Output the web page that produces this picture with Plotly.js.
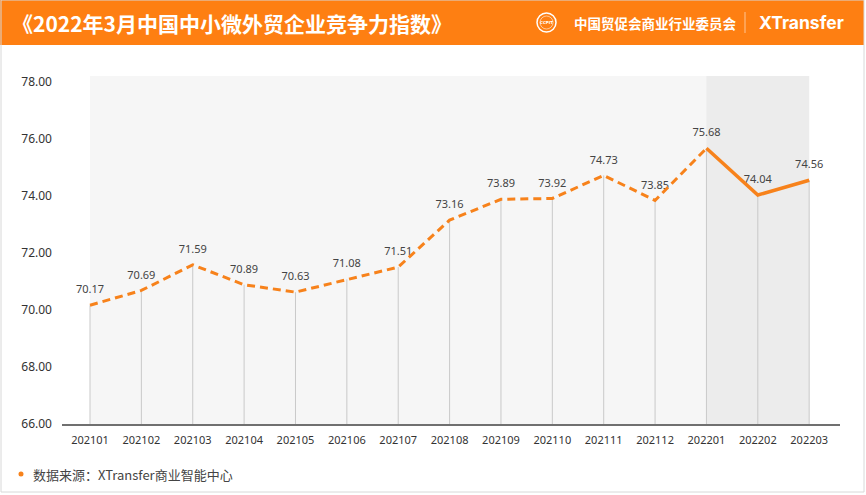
<!DOCTYPE html>
<html>
<head>
<meta charset="utf-8">
<script src="https://cdn.plot.ly/plotly-3.0.1.min.js"></script>
<style>
  html, body { margin: 0; padding: 0; background: #fff; }
  #chart { width: 866px; height: 495px; }
</style>
</head>
<body>
<div id="chart"></div>
<script>
// data
const months = ['202101','202102','202103','202104','202105','202106','202107','202108',
                '202109','202110','202111','202112','202201','202202','202203'];
const index_values = [70.17, 70.69, 71.59, 70.89, 70.63, 71.08, 71.51, 73.16,
                      73.89, 73.92, 74.73, 73.85, 75.68, 74.04, 74.56];
const solid_from = 12; // 2022 part is drawn solid
const y_ticks = [66, 68, 70, 72, 74, 76, 78];

const W = 866, H = 495;
const px = v => v / W;          // pixel -> paper x
const py = v => 1 - v / H;      // pixel -> paper y

const orange = '#F7821B';
const xs = months.map((m, i) => i);

// grey drop lines as one-sided error bars, labels sit above an invisible marker
const drops = {
  x: xs,
  y: index_values,
  mode: 'markers+text',
  marker: {size: 13, opacity: 0},
  text: index_values.map(v => v.toFixed(2)),
  textposition: 'top center',
  textfont: {family: 'Noto Sans, sans-serif', size: 11, color: '#444'},
  error_y: {
    type: 'data', symmetric: false,
    array: index_values.map(() => 0),
    arrayminus: index_values.map(v => v - y_ticks[0]),
    width: 0, thickness: 1, color: '#c9c9c9'
  },
  hoverinfo: 'skip'
};
const dashed = {
  x: xs.slice(0, solid_from + 1),
  y: index_values.slice(0, solid_from + 1),
  mode: 'lines',
  line: {color: orange, width: 3, dash: '8px,5px'},
  hoverinfo: 'skip'
};
const solid = {
  x: xs.slice(solid_from),
  y: index_values.slice(solid_from),
  mode: 'lines',
  line: {color: orange, width: 3.5},
  hoverinfo: 'skip'
};

const layout = {
  width: W, height: H,
  margin: {l: 0, r: 0, t: 0, b: 0},
  paper_bgcolor: '#fff',
  plot_bgcolor: 'rgba(0,0,0,0)',
  showlegend: false,
  font: {family: 'Noto Sans, sans-serif', color: '#333'},
  xaxis: {
    domain: [px(62), px(840)],
    range: [-0.545, 14.6],
    tickvals: xs,
    ticktext: months,
    tickfont: {size: 11, color: '#333'},
    showgrid: false, zeroline: false,
    showline: true, linecolor: '#707070', linewidth: 2,
    ticks: '', ticklabelstandoff: 5,
    fixedrange: true
  },
  yaxis: {
    domain: [py(424), py(76)],
    range: [66, 78.22],
    tickvals: y_ticks,
    tickformat: '.2f',
    tickfont: {size: 12, color: '#333'},
    showgrid: false, zeroline: false, showline: false,
    ticks: '', ticklabelstandoff: 9,
    fixedrange: true
  },
  shapes: [
    // grey plot band and the darker 2022 part
    {type: 'rect', xref: 'x', yref: 'paper', x0: 0, x1: 14, y0: py(424), y1: py(76),
     fillcolor: '#f6f6f6', line: {width: 0}, layer: 'below'},
    {type: 'rect', xref: 'x', yref: 'paper', x0: solid_from, x1: 14, y0: py(424), y1: py(76),
     fillcolor: '#ececec', line: {width: 0}, layer: 'below'},
    // header bar
    {type: 'rect', xref: 'paper', yref: 'paper', x0: 0, x1: px(864), y0: py(45), y1: 1,
     fillcolor: '#FE7F12', line: {width: 0}, layer: 'below'},
    // logo ring
    {type: 'circle', xref: 'paper', yref: 'paper', x0: px(537), x1: px(556), y0: py(32), y1: py(13),
     line: {color: '#fff', width: 1.5}},
    {type: 'circle', xref: 'paper', yref: 'paper', x0: px(540), x1: px(553), y0: py(29), y1: py(16),
     line: {color: 'rgba(255,255,255,0.7)', width: 0.8}},
    // divider
    {type: 'line', xref: 'paper', yref: 'paper', x0: px(745), x1: px(745), y0: py(33), y1: py(12),
     line: {color: 'rgba(255,255,255,0.55)', width: 1}},
    // footer dot
    {type: 'circle', xref: 'paper', yref: 'paper', x0: px(18.5), x1: px(23.5), y0: py(476.5), y1: py(471.5),
     fillcolor: orange, line: {width: 0}},
    // outer frame
    {type: 'rect', xref: 'paper', yref: 'paper', x0: px(1), x1: px(864), y0: py(492), y1: 1,
     line: {color: '#d8d8d8', width: 1}}
  ],
  annotations: [
    {xref: 'paper', yref: 'paper', x: px(10), y: py(23), xanchor: 'left', yanchor: 'middle',
     text: '<b>《2022年3月中国中小微外贸企业竞争力指数》</b>', showarrow: false,
     font: {family: 'Noto Sans CJK SC', size: 21, color: '#fff'}},
    {xref: 'paper', yref: 'paper', x: px(546.5), y: py(22.5), xanchor: 'center', yanchor: 'middle',
     text: '<b>CCPIT</b>', showarrow: false,
     font: {family: 'DejaVu Sans', size: 4, color: '#fff'}},
    {xref: 'paper', yref: 'paper', x: px(572), y: py(23), xanchor: 'left', yanchor: 'middle',
     text: '<b>中国贸促会商业行业委员会</b>', showarrow: false,
     font: {family: 'Noto Sans CJK SC', size: 13.5, color: '#fff'}},
    {xref: 'paper', yref: 'paper', x: px(757), y: py(23), xanchor: 'left', yanchor: 'middle',
     text: '<b>XTransfer</b>', showarrow: false,
     font: {family: 'Inter, Roboto, sans-serif', size: 17.5, color: '#fff'}},
    {xref: 'paper', yref: 'paper', x: px(31), y: py(474), xanchor: 'left', yanchor: 'middle',
     text: '数据来源：XTransfer商业智能中心', showarrow: false,
     font: {family: 'Noto Sans CJK SC', size: 13, color: '#444'}}
  ]
};

Plotly.newPlot('chart', [drops, dashed, solid], layout, {staticPlot: true});
</script>
</body>
</html>
